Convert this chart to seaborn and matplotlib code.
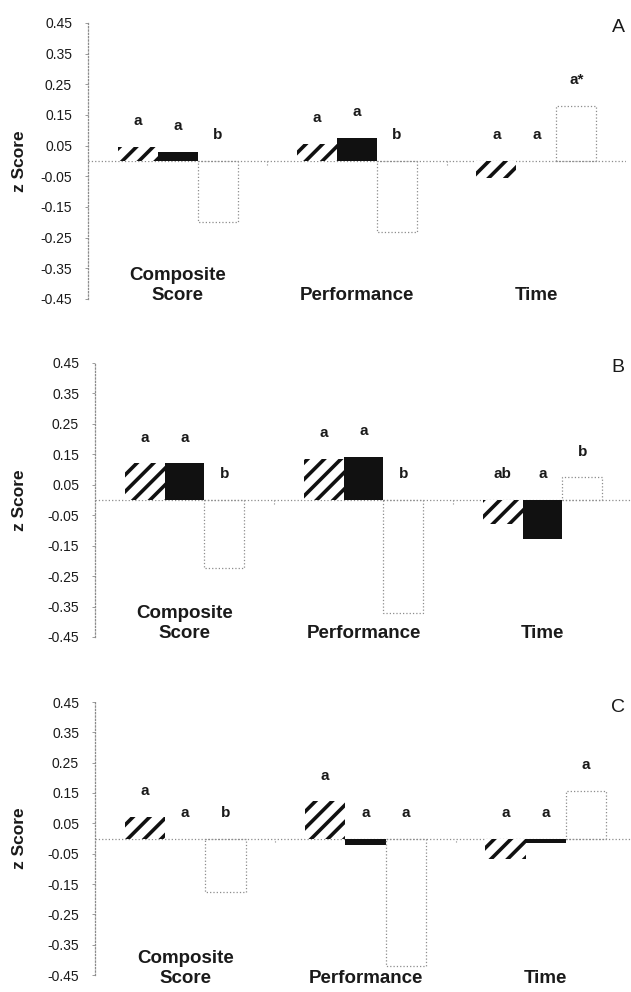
import numpy as np
import pandas as pd
import matplotlib
matplotlib.use("Agg")
import matplotlib.pyplot as plt
import seaborn as sns

# Values
categories = ["Composite\nScore", "Performance", "Time"]
groups = ["Group 1", "Group 2", "Group 3"]
panel_names = ["A", "B", "C"]

a_group1 = [0.045, 0.055, -0.055]
a_group2 = [0.030, 0.075, 0.000]
a_group3 = [-0.200, -0.230, 0.180]
a_letters1 = ["a", "a", "a"]
a_letters2 = ["a", "a", "a"]
a_letters3 = ["b", "b", "a*"]

b_group1 = [0.120, 0.135, -0.080]
b_group2 = [0.120, 0.142, -0.128]
b_group3 = [-0.223, -0.370, 0.074]
b_letters1 = ["a", "a", "ab"]
b_letters2 = ["a", "a", "a"]
b_letters3 = ["b", "b", "b"]

c_group1 = [0.071, 0.122, -0.068]
c_group2 = [0.000, -0.021, -0.015]
c_group3 = [-0.178, -0.420, 0.157]
c_letters1 = ["a", "a", "a"]
c_letters2 = ["a", "a", "a"]
c_letters3 = ["b", "a", "a"]

yticks = [0.45, 0.35, 0.25, 0.15, 0.05, -0.05, -0.15, -0.25, -0.35, -0.45]

panel_values = [
    (a_group1, a_group2, a_group3),
    (b_group1, b_group2, b_group3),
    (c_group1, c_group2, c_group3),
]
panel_letters = [
    (a_letters1, a_letters2, a_letters3),
    (b_letters1, b_letters2, b_letters3),
    (c_letters1, c_letters2, c_letters3),
]

sns.set_theme(style="white")
plt.rcParams["font.family"] = ["Liberation Sans", "DejaVu Sans"]
plt.rcParams["axes.unicode_minus"] = False
plt.rcParams["hatch.linewidth"] = 2.6

W, H = 631, 992
fig = plt.figure(figsize=(W / 100, H / 100), dpi=100)

# axes boxes in pixels: left, right, top (0.45), bottom (-0.45)
boxes = [(88, 626, 23, 299), (95, 632, 363, 637), (95, 636, 702, 975)]
cat_label_y = [-0.465, -0.465, -0.488]
grey = "#8c8c8c"

for name, vals, letters, (x0, x1, yt, yb), cy in zip(panel_names, panel_values, panel_letters, boxes, cat_label_y):
    ax = fig.add_axes([x0 / W, 1 - yb / H, (x1 - x0) / W, (yb - yt) / H])
    df = pd.DataFrame({
        "category": categories * 3,
        "group": [g for g in groups for _ in categories],
        "z": list(vals[0]) + list(vals[1]) + list(vals[2]),
    })
    ax.axhline(0, color=grey, ls=":", lw=0.9, zorder=0)
    sns.barplot(data=df, x="category", y="z", hue="group", order=categories,
                hue_order=groups, palette=["white", "black", "white"], saturation=1,
                width=0.67, errorbar=None, legend=False, ax=ax, zorder=2)

    c1, c2, c3 = ax.containers[:3]
    for p in c1:
        p.set_facecolor("white")
        p.set_edgecolor("#111111")
        p.set_hatch("//")
        p.set_linewidth(0)
    for p in c2:
        p.set_facecolor("#111111")
        p.set_edgecolor("#111111")
        p.set_linewidth(0)
    for p in c3:
        p.set_facecolor("none")
        p.set_edgecolor(grey)
        p.set_linestyle(":")
        p.set_linewidth(0.9)

    # significance letters over each bar
    for cont, vlist, llist in zip((c1, c2, c3), vals, letters):
        for p, v, lab in zip(cont, vlist, llist):
            xc = p.get_x() + p.get_width() / 2
            ax.text(xc, max(v, 0) + 0.085, lab, ha="center", va="center",
                    fontsize=11, fontweight="bold", color="#1a1a1a")

    # category labels near the bottom
    for i, cat in enumerate(categories):
        ax.text(i, cy, cat, ha="center", va="bottom", fontsize=13.5,
                fontweight="bold", color="#1a1a1a", clip_on=False)

    ax.vlines([0.5, 1.5], -0.012, 0, color=grey, ls=":", lw=0.8)

    ax.set_xlim(-0.5, 2.5)
    ax.set_ylim(-0.45, 0.45)
    ax.set_xticks([])
    ax.set_yticks(yticks)
    ax.set_yticklabels([f"{t:.2f}" for t in yticks])
    ax.set_xlabel("")
    ax.set_ylabel("")
    ax.tick_params(axis="y", left=True, length=2.5, width=0.6, color=grey,
                   pad=9, labelsize=10, labelcolor="#1a1a1a")
    for s in ["top", "right", "bottom"]:
        ax.spines[s].set_visible(False)
    ax.spines["left"].set_color(grey)
    ax.spines["left"].set_linestyle(":")
    ax.spines["left"].set_linewidth(0.9)
    ax.patch.set_alpha(0)

    yc = (yt + yb) / 2
    fig.text(20 / W, 1 - yc / H, "z Score", rotation=90, ha="center", va="center",
             fontsize=12.5, fontweight="bold", color="#1a1a1a")
    fig.text(618 / W, 1 - (yt + 5) / H, name, ha="center", va="center",
             fontsize=14, color="#1a1a1a")

fig.savefig("out.png", dpi=100)
